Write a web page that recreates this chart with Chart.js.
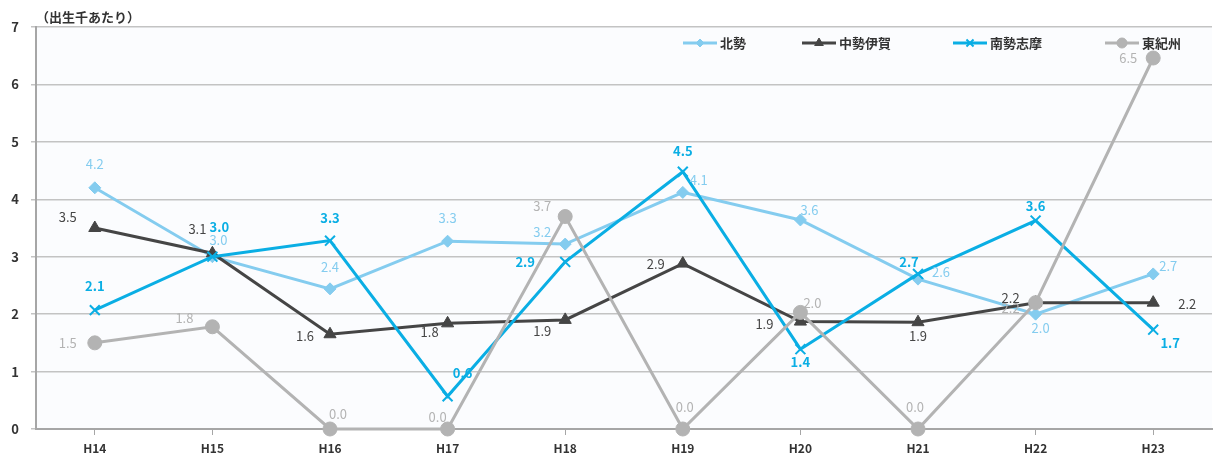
<!DOCTYPE html>
<html>
<head>
<meta charset="utf-8">
<script src="https://cdn.jsdelivr.net/npm/chart.js@4"></script>
<style>
	html, body { margin: 0; padding: 0; background: #fff; }
	#wrap { width: 1221px; height: 459px; }
</style>
</head>
<body>
<div id="wrap"><canvas id="chart" width="1221" height="459"></canvas></div>
<script>
// Data
const years = ['H14', 'H15', 'H16', 'H17', 'H18', 'H19', 'H20', 'H21', 'H22', 'H23'];
const hokusei = [4.2, 3.0, 2.44, 3.27, 3.22, 4.12, 3.64, 2.61, 2.0, 2.7];
const chuseiIga = [3.5, 3.06, 1.65, 1.84, 1.9, 2.88, 1.87, 1.86, 2.2, 2.2];
const nanseiShima = [2.07, 3.0, 3.28, 0.57, 2.91, 4.48, 1.39, 2.7, 3.63, 1.73];
const higashiKishu = [1.5, 1.78, 0.0, 0.0, 3.7, 0.0, 2.03, 0.0, 2.2, 6.46];
const yTicks = [0, 1, 2, 3, 4, 5, 6, 7];
const unitLabel = '（出生千あたり）';

// label offsets from each point [dx, dy]
const hokuseiLbl = [[0,-24],[6,-17],[0,-22],[0,-23],[-23,-12],[16,-12],[9,-10],[23,-7],[5,14],[15,-8]];
const chuseiLbl = [[-27,-11],[-15,-24],[-25,2],[-18,9],[-23,11],[-27,0],[-36,2],[0,14],[-25,-5],[34,1]];
const nanseiLbl = [[0,-24],[7,-30],[0,-23],[15,-23],[-40,0],[0,-21],[0,13],[-9,-12],[0,-14],[17,13]];
const kishuLbl = [[-27,0],[-28,-9],[8,-15],[-10,-12],[-23,-10],[2,-22],[12,-9],[-3,-22],[-25,5],[-25,0]];

const FONT = "'Noto Sans CJK JP', 'Noto Sans', sans-serif";

const series = [
	{ label: '北勢', data: hokusei, color: '#84ccef', style: 'rectRot', radius: 6, lbl: hokuseiLbl, bold: false, order: 3 },
	{ label: '中勢伊賀', data: chuseiIga, color: '#454545', style: 'triangle', radius: 7, lbl: chuseiLbl, bold: false, order: 2 },
	{ label: '南勢志摩', data: nanseiShima, color: '#0aaee4', style: 'crossRot', radius: 7, lbl: nanseiLbl, bold: true, order: 1 },
	{ label: '東紀州', data: higashiKishu, color: '#b3b3b3', style: 'circle', radius: 7, lbl: kishuLbl, bold: false, order: 0 }
];

const plotBg = {
	id: 'plotBg',
	beforeDraw(chart) {
		const { ctx, chartArea: a } = chart;
		ctx.save();
		ctx.fillStyle = '#fbfcfe';
		ctx.fillRect(a.left, a.top, a.right - a.left, a.bottom - a.top);
		ctx.restore();
	}
};

const extras = {
	id: 'extras',
	afterDatasetsDraw(chart) {
		const ctx = chart.ctx;
		ctx.save();
		// data labels
		chart.data.datasets.forEach((ds, i) => {
			const meta = chart.getDatasetMeta(i);
			ctx.font = (ds.lblBold ? 'bold ' : '') + '13px ' + FONT;
			ctx.fillStyle = ds.borderColor;
			ctx.textAlign = 'center';
			ctx.textBaseline = 'middle';
			meta.data.forEach((pt, j) => {
				const off = ds.lblOffsets[j];
				ctx.fillText(ds.data[j].toFixed(1), pt.x + off[0], pt.y + off[1]);
			});
		});
		// unit label
		ctx.font = 'bold 13px ' + FONT;
		ctx.fillStyle = '#333';
		ctx.textAlign = 'left';
		ctx.textBaseline = 'middle';
		ctx.fillText(unitLabel, 36, 17);
		// legend
		const lx = [683, 802, 953, 1105];
		const ly = 43;
		chart.data.datasets.forEach((ds, i) => {
			const x = lx[i];
			ctx.strokeStyle = ds.borderColor;
			ctx.fillStyle = ds.borderColor;
			ctx.lineWidth = 3;
			ctx.beginPath();
			ctx.moveTo(x, ly);
			ctx.lineTo(x + 34, ly);
			ctx.stroke();
			ctx.lineWidth = ds.pointBorderWidth;
			Chart.helpers.drawPoint(ctx, {
				pointStyle: ds.pointStyle,
				radius: ds.pointRadius - 2,
				borderWidth: ds.pointBorderWidth
			}, x + 17, ly);
			ctx.fillStyle = '#333';
			ctx.font = 'bold 13px ' + FONT;
			ctx.fillText(ds.label, x + 37, ly);
		});
		ctx.restore();
	}
};

const datasets = series.map(s => ({
	label: s.label,
	data: s.data,
	borderColor: s.color,
	backgroundColor: s.color,
	pointBackgroundColor: s.color,
	pointBorderColor: s.color,
	pointBorderWidth: s.style === 'crossRot' ? 2 : 1,
	pointStyle: s.style,
	pointRadius: s.radius,
	pointHoverRadius: s.radius,
	borderWidth: 3,
	tension: 0,
	clip: false,
	order: s.order,
	lblOffsets: s.lbl,
	lblBold: s.bold
}));

new Chart(document.getElementById('chart'), {
	type: 'line',
	data: { labels: years, datasets },
	options: {
		responsive: false,
		animation: false,
		layout: { padding: { left: 0, right: 1, top: 27, bottom: 0 } },
		plugins: { legend: { display: false }, tooltip: { enabled: false } },
		scales: {
			x: {
				offset: true,
				grid: { drawOnChartArea: false, color: '#a6a6a6', tickLength: 6, lineWidth: 1 },
				border: { color: '#a6a6a6', width: 2 },
				ticks: { color: '#333', font: { family: FONT, size: 12, weight: 'bold' }, padding: 6 },
				afterFit(s) { s.height = 30; s.paddingLeft = 0; s.paddingRight = 0; }
			},
			y: {
				min: 0,
				max: 7,
				afterBuildTicks(s) { s.ticks = yTicks.map(v => ({ value: v })); },
				grid: { color: '#c3c3c3', lineWidth: 1.5, tickLength: 5 },
				border: { color: '#a6a6a6', width: 2 },
				ticks: { color: '#333', font: { family: FONT, size: 13, weight: 'bold' }, padding: 12 },
				afterFit(s) { s.width = 36; }
			}
		}
	},
	plugins: [plotBg, extras]
});
</script>
</body>
</html>
